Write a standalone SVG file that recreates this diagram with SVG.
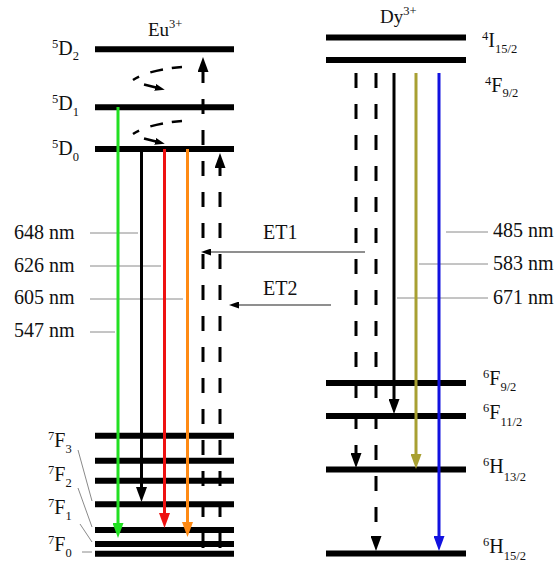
<svg xmlns="http://www.w3.org/2000/svg" width="559" height="567" viewBox="0 0 559 567">
<style>
text{font-family:"Liberation Serif","Times New Roman",serif;font-size:20px;fill:#111}
.sup,.sub{font-size:12.5px}
.ttl{font-size:19px}
.lvl{stroke:#000;stroke-width:6}
.lead{stroke:#8a8a8a;stroke-width:1;fill:none}
.dash{stroke:#000;stroke-width:3;fill:none;stroke-dasharray:15 16}
.up{stroke-dashoffset:22}
.em{stroke-width:3;fill:none}
.et{stroke:#6a6a6a;stroke-width:1.3;fill:none}
</style>
<defs>
<marker id="ak" markerUnits="userSpaceOnUse" viewBox="0 0 15 11" refX="5" refY="5.5" markerWidth="15" markerHeight="11" orient="auto"><path d="M0,0L15,5.5L0,11z" fill="#000"/></marker>
<marker id="ag" markerUnits="userSpaceOnUse" viewBox="0 0 15 11" refX="5" refY="5.5" markerWidth="15" markerHeight="11" orient="auto"><path d="M0,0L15,5.5L0,11z" fill="#22e022"/></marker>
<marker id="ar" markerUnits="userSpaceOnUse" viewBox="0 0 15 11" refX="5" refY="5.5" markerWidth="15" markerHeight="11" orient="auto"><path d="M0,0L15,5.5L0,11z" fill="#ee1111"/></marker>
<marker id="ao" markerUnits="userSpaceOnUse" viewBox="0 0 15 11" refX="5" refY="5.5" markerWidth="15" markerHeight="11" orient="auto"><path d="M0,0L15,5.5L0,11z" fill="#ff8a14"/></marker>
<marker id="ay" markerUnits="userSpaceOnUse" viewBox="0 0 15 11" refX="5" refY="5.5" markerWidth="15" markerHeight="11" orient="auto"><path d="M0,0L15,5.5L0,11z" fill="#a8a032"/></marker>
<marker id="ab" markerUnits="userSpaceOnUse" viewBox="0 0 15 11" refX="5" refY="5.5" markerWidth="15" markerHeight="11" orient="auto"><path d="M0,0L15,5.5L0,11z" fill="#1212e0"/></marker>
<marker id="as" markerUnits="userSpaceOnUse" viewBox="0 0 10 7" refX="3" refY="3.5" markerWidth="10" markerHeight="7" orient="auto"><path d="M0,0L10,3.5L0,7z" fill="#000"/></marker>
</defs>

<g id="eu-title"><text class="ttl" x="148" y="36">Eu<tspan class="sup" dy="-8">3+</tspan></text></g>
<g id="dy-title"><text class="ttl" x="380" y="23">Dy<tspan class="sup" dy="-8">3+</tspan></text></g>

<g id="eu-5D2"><line class="lvl" x1="95" y1="49.3" x2="234" y2="49.3"/><text x="52" y="55"><tspan class="sup" dy="-7">5</tspan><tspan dy="7">D</tspan><tspan class="sub" dy="5">2</tspan></text></g>
<g id="eu-5D1"><line class="lvl" x1="95" y1="107.3" x2="234" y2="107.3"/><text x="52" y="110"><tspan class="sup" dy="-7">5</tspan><tspan dy="7">D</tspan><tspan class="sub" dy="6">1</tspan></text></g>
<g id="eu-5D0"><line class="lvl" x1="95" y1="149" x2="234" y2="149"/><text x="52" y="155"><tspan class="sup" dy="-7">5</tspan><tspan dy="7">D</tspan><tspan class="sub" dy="6">0</tspan></text></g>
<g id="eu-7F6"><line class="lvl" x1="95" y1="435.7" x2="234" y2="435.7"/></g>
<g id="eu-7F5"><line class="lvl" x1="95" y1="460.7" x2="234" y2="460.7"/></g>
<g id="eu-7F4"><line class="lvl" x1="95" y1="480.8" x2="234" y2="480.8"/></g>
<g id="eu-7F3"><line class="lvl" x1="95" y1="504.3" x2="234" y2="504.3"/><text x="48" y="447"><tspan class="sup" dy="-7">7</tspan><tspan dy="7">F</tspan><tspan class="sub" dy="6">3</tspan></text><line class="lead" x1="78" y1="450" x2="92" y2="501"/></g>
<g id="eu-7F2"><line class="lvl" x1="95" y1="530" x2="234" y2="530"/><text x="48" y="481"><tspan class="sup" dy="-7">7</tspan><tspan dy="7">F</tspan><tspan class="sub" dy="6">2</tspan></text><line class="lead" x1="78" y1="488" x2="92" y2="527"/></g>
<g id="eu-7F1"><line class="lvl" x1="95" y1="544" x2="234" y2="544"/><text x="48" y="514"><tspan class="sup" dy="-7">7</tspan><tspan dy="7">F</tspan><tspan class="sub" dy="6">1</tspan></text><line class="lead" x1="80" y1="524" x2="92" y2="542"/></g>
<g id="eu-7F0"><line class="lvl" x1="95" y1="553.7" x2="234" y2="553.7"/><text x="48" y="551"><tspan class="sup" dy="-7">7</tspan><tspan dy="7">F</tspan><tspan class="sub" dy="6">0</tspan></text><line class="lead" x1="82" y1="552" x2="92" y2="552"/></g>

<g id="dy-4I15"><line class="lvl" x1="326" y1="37.5" x2="466" y2="37.5"/><text x="482" y="47"><tspan class="sup" dy="-7">4</tspan><tspan dy="7">I</tspan><tspan class="sub" dy="6">15/2</tspan></text></g>
<g id="dy-4F9"><line class="lvl" x1="326" y1="60" x2="466" y2="60"/><text x="485" y="92"><tspan class="sup" dy="-7">4</tspan><tspan dy="7">F</tspan><tspan class="sub" dy="5">9/2</tspan></text></g>
<g id="dy-6F9"><line class="lvl" x1="326" y1="383" x2="466" y2="383"/><text x="483" y="385"><tspan class="sup" dy="-7">6</tspan><tspan dy="7">F</tspan><tspan class="sub" dy="6">9/2</tspan></text></g>
<g id="dy-6F11"><line class="lvl" x1="326" y1="416" x2="466" y2="416"/><text x="483" y="419"><tspan class="sup" dy="-7">6</tspan><tspan dy="7">F</tspan><tspan class="sub" dy="7">11/2</tspan></text></g>
<g id="dy-6H13"><line class="lvl" x1="326" y1="469.5" x2="466" y2="469.5"/><text x="483" y="473"><tspan class="sup" dy="-7">6</tspan><tspan dy="7">H</tspan><tspan class="sub" dy="8">13/2</tspan></text></g>
<g id="dy-6H15"><line class="lvl" x1="326" y1="553.5" x2="466" y2="553.5"/><text x="483" y="553"><tspan class="sup" dy="-7">6</tspan><tspan dy="7">H</tspan><tspan class="sub" dy="7">15/2</tspan></text></g>

<g id="eu-wavelengths">
<text x="14" y="239">648 nm</text><line class="lead" x1="90" y1="233" x2="138" y2="233"/>
<text x="14" y="272">626 nm</text><line class="lead" x1="90" y1="266" x2="161" y2="266"/>
<text x="14" y="304">605 nm</text><line class="lead" x1="90" y1="299" x2="183" y2="299"/>
<text x="14" y="337">547 nm</text><line class="lead" x1="90" y1="332" x2="115" y2="332"/>
</g>
<g id="dy-wavelengths">
<text x="493" y="237">485 nm</text><line class="lead" x1="446" y1="232" x2="488" y2="232"/>
<text x="493" y="270">583 nm</text><line class="lead" x1="419" y1="264" x2="488" y2="264"/>
<text x="493" y="304">671 nm</text><line class="lead" x1="397" y1="298" x2="488" y2="298"/>
</g>

<g id="connectors">
<line class="em" stroke="#22e022" x1="118" y1="107" x2="118" y2="528" marker-end="url(#ag)"/>
<line class="em" stroke="#000" x1="141.5" y1="149" x2="141.5" y2="492" marker-end="url(#ak)"/>
<line class="em" stroke="#ee1111" x1="164.5" y1="149" x2="164.5" y2="518" marker-end="url(#ar)"/>
<line class="em" stroke="#ff8a14" x1="187.5" y1="149" x2="187.5" y2="527" marker-end="url(#ao)"/>
<line class="dash up" x1="203" y1="557" x2="203" y2="67" marker-end="url(#ak)"/>
<line class="dash up" x1="220" y1="557" x2="220" y2="163" marker-end="url(#ak)"/>
<path d="M182,67 Q148,70 133,80" stroke="#000" stroke-width="2.5" fill="none" stroke-dasharray="10 9 13 12"/>
<line x1="144" y1="84.5" x2="158" y2="88" stroke="#000" stroke-width="2.5" marker-end="url(#as)"/>
<path d="M182,121 Q148,124 133,134" stroke="#000" stroke-width="2.5" fill="none" stroke-dasharray="10 9 13 12"/>
<line x1="144" y1="138.5" x2="158" y2="142" stroke="#000" stroke-width="2.5" marker-end="url(#as)"/>
<line class="dash" x1="356" y1="73" x2="356" y2="458" marker-end="url(#ak)"/>
<line class="dash" x1="376" y1="73" x2="376" y2="541" marker-end="url(#ak)"/>
<line class="em" stroke="#000" x1="394" y1="73" x2="394" y2="404" marker-end="url(#ak)"/>
<line class="em" stroke="#a8a032" x1="416" y1="73" x2="416" y2="459" marker-end="url(#ay)"/>
<line class="em" stroke="#1212e0" x1="439" y1="73" x2="439" y2="541" marker-end="url(#ab)"/>
<line class="et" x1="365" y1="252" x2="208" y2="252" marker-end="url(#as)"/>
<line class="et" x1="331" y1="305" x2="236" y2="305" marker-end="url(#as)"/>
</g>
<g id="et-labels"><text x="263" y="239">ET1</text><text x="263" y="295">ET2</text></g>
</svg>
